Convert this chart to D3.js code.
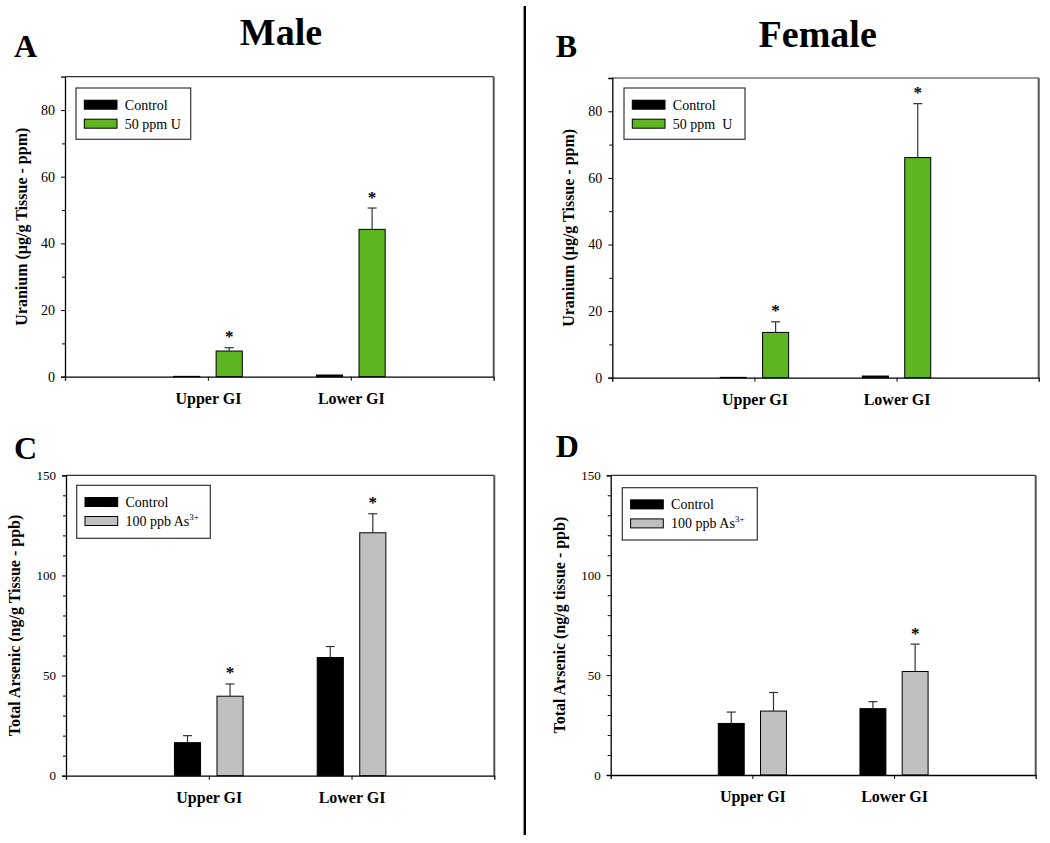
<!DOCTYPE html>
<html>
<head>
<meta charset="utf-8">
<script src="https://cdn.jsdelivr.net/npm/d3@7"></script>
<style>
  html, body { margin: 0; padding: 0; background: #fff; }
  svg { display: block; font-family: "Liberation Serif", "Times New Roman", serif; }
</style>
</head>
<body>
<svg id="chart" width="1050" height="843"></svg>
<script>
// ---------- data ----------
const categories = ["Upper GI", "Lower GI"];

const uraniumMaleControl = [0.1, 0.5];
const uraniumMaleControlErr = [0, 0];
const uraniumMaleTreated = [7.7, 44.2];
const uraniumMaleTreatedErr = [1.0, 6.4];
const uraniumMaleSig = [true, true];

const uraniumFemaleControl = [0.1, 0.5];
const uraniumFemaleControlErr = [0, 0];
const uraniumFemaleTreated = [13.6, 66.1];
const uraniumFemaleTreatedErr = [3.2, 16.2];
const uraniumFemaleSig = [true, true];

const arsenicMaleControl = [16.5, 59.0];
const arsenicMaleControlErr = [3.5, 5.5];
const arsenicMaleTreated = [39.7, 121.3];
const arsenicMaleTreatedErr = [6.1, 9.5];
const arsenicMaleSig = [true, true];

const arsenicFemaleControl = [25.8, 33.2];
const arsenicFemaleControlErr = [5.7, 3.5];
const arsenicFemaleTreated = [32.0, 51.8];
const arsenicFemaleTreatedErr = [9.3, 13.7];
const arsenicFemaleSig = [false, true];

const uraniumTicks = [0, 20, 40, 60, 80];
const uraniumMinorTicks = [10, 30, 50, 70];
const arsenicTicks = [0, 50, 100, 150];
const arsenicMinorTicks = [10, 20, 30, 40, 60, 70, 80, 90, 110, 120, 130, 140];

const legendControl = "Control";
const legendUranium = "50 ppm U";
const legendUraniumB = "50 ppm  U";
const legendArsenic = "100 ppb As";
const legendArsenicSup = "3+";

const controlColor = "#000000";
const uraniumColor = "#5db520";
const arsenicColor = "#c0c0c0";

// ---------- panels ----------
const panels = [
  { letter: "A", letterX: 14, letterY: 57, title: "Male", titleX: 281, titleY: 45,
    box: { l: 65, t: 76.7, r: 493.7, b: 376.7 }, ymax: 90, ticks: uraniumTicks, minor: uraniumMinorTicks,
    tickFont: 14, ylabel: "Uranium (\u00b5g/g Tissue - ppm)", ylabelX: 21,
    control: uraniumMaleControl, controlErr: uraniumMaleControlErr,
    treated: uraniumMaleTreated, treatedErr: uraniumMaleTreatedErr, sig: uraniumMaleSig,
    color: uraniumColor, legendText: legendUranium, sup: null,
    legend: { dx: 11, dy: 11.3, w: 114.7, h: 51.3 } },
  { letter: "B", letterX: 555.7, letterY: 57.3, title: "Female", titleX: 817.7, titleY: 46.5,
    box: { l: 612.3, t: 78, r: 1038.7, b: 377.7 }, ymax: 90, ticks: uraniumTicks, minor: uraniumMinorTicks,
    tickFont: 14, ylabel: "Uranium (\u00b5g/g Tissue - ppm)", ylabelX: 568,
    control: uraniumFemaleControl, controlErr: uraniumFemaleControlErr,
    treated: uraniumFemaleTreated, treatedErr: uraniumFemaleTreatedErr, sig: uraniumFemaleSig,
    color: uraniumColor, legendText: legendUraniumB, sup: null,
    legend: { dx: 11.7, dy: 10, w: 121, h: 51.3 } },
  { letter: "C", letterX: 14, letterY: 459.3, title: null,
    box: { l: 66, t: 475.3, r: 494.3, b: 775.7 }, ymax: 150, ticks: arsenicTicks, minor: arsenicMinorTicks,
    tickFont: 13, ylabel: "Total Arsenic (ng/g Tissue - ppb)", ylabelX: 14,
    control: arsenicMaleControl, controlErr: arsenicMaleControlErr,
    treated: arsenicMaleTreated, treatedErr: arsenicMaleTreatedErr, sig: arsenicMaleSig,
    color: arsenicColor, legendText: legendArsenic, sup: legendArsenicSup,
    legend: { dx: 10.7, dy: 10, w: 133.6, h: 53 } },
  { letter: "D", letterX: 555.7, letterY: 457.3, title: null,
    box: { l: 610.7, t: 475.3, r: 1035.7, b: 775 }, ymax: 150, ticks: arsenicTicks, minor: arsenicMinorTicks,
    tickFont: 13, ylabel: "Total Arsenic (ng/g tissue - ppb)", ylabelX: 559,
    control: arsenicFemaleControl, controlErr: arsenicFemaleControlErr,
    treated: arsenicFemaleTreated, treatedErr: arsenicFemaleTreatedErr, sig: arsenicFemaleSig,
    color: arsenicColor, legendText: legendArsenic, sup: legendArsenicSup,
    legend: { dx: 11.6, dy: 12.4, w: 135, h: 52.3 } }
];

const svg = d3.select("#chart");

// divider
svg.append("line").attr("x1", 524.8).attr("x2", 524.8).attr("y1", 6).attr("y2", 835)
  .attr("stroke", "#000").attr("stroke-width", 2.4);

const barW = 0.183, barOff = 0.149;

panels.forEach(p => {
  const g = svg.append("g");
  const B = p.box;
  const x = d3.scaleLinear().domain([0, 3]).range([B.l, B.r]);
  const y = d3.scaleLinear().domain([0, p.ymax]).range([B.b, B.t]);

  // letter & title
  g.append("text").attr("x", p.letterX).attr("y", p.letterY).attr("font-size", 32)
    .attr("font-weight", "bold").text(p.letter);
  if (p.title) {
    g.append("text").attr("x", p.titleX).attr("y", p.titleY).attr("font-size", 38)
      .attr("font-weight", "bold").attr("text-anchor", "middle").text(p.title);
  }

  // frame top & right
  g.append("line").attr("x1", B.l).attr("x2", B.r).attr("y1", B.t).attr("y2", B.t)
    .attr("stroke", "#333").attr("stroke-width", 1.2);
  g.append("line").attr("x1", B.r).attr("x2", B.r).attr("y1", B.t).attr("y2", B.b)
    .attr("stroke", "#555").attr("stroke-width", 2);

  // bars
  const idx = categories.map((c, i) => i);
  const series = [
    { vals: p.control, errs: p.controlErr, off: -barOff, fill: controlColor, sig: null },
    { vals: p.treated, errs: p.treatedErr, off: barOff, fill: p.color, sig: p.sig }
  ];
  series.forEach(s => {
    const bx = i => x(i + 1 + s.off - barW / 2);
    const bw = x(barW) - x(0);
    g.selectAll(null).data(idx).enter().append("rect")
      .attr("x", bx).attr("width", bw)
      .attr("y", i => y(s.vals[i])).attr("height", i => y(0) - y(s.vals[i]))
      .attr("fill", s.fill).attr("stroke", "#000").attr("stroke-width", 1);
    // error bars
    idx.filter(i => s.errs[i] > 0).forEach(i => {
      const cx = x(i + 1 + s.off);
      const top = y(s.vals[i] + s.errs[i]);
      g.append("line").attr("x1", cx).attr("x2", cx).attr("y1", y(s.vals[i])).attr("y2", top)
        .attr("stroke", "#333").attr("stroke-width", 1.2);
      g.append("line").attr("x1", cx - 4.5).attr("x2", cx + 4.5).attr("y1", top).attr("y2", top)
        .attr("stroke", "#333").attr("stroke-width", 1.2);
      if (s.sig && s.sig[i]) {
        g.append("text").attr("x", cx).attr("y", top - 5.5).attr("text-anchor", "middle")
          .attr("font-size", 17).attr("font-weight", "bold").text("*");
      }
    });
  });

  // y axis
  const yAxis = g.append("g").attr("transform", `translate(${B.l},0)`)
    .call(d3.axisLeft(y).tickValues(p.ticks).tickSize(4).tickPadding(6).tickFormat(d3.format("d")));
  yAxis.select(".domain").attr("stroke", "#000").attr("stroke-width", 1.3);
  yAxis.selectAll(".tick line").attr("stroke", "#000");
  yAxis.selectAll("text").attr("font-size", p.tickFont).attr("font-family", "Liberation Serif").attr("fill", "#000");
  g.append("g").attr("transform", `translate(${B.l},0)`)
    .call(d3.axisLeft(y).tickValues(p.minor).tickSize(3).tickFormat(""))
    .call(a => a.select(".domain").remove())
    .selectAll(".tick line").attr("stroke", "#000");

  // x axis
  const xAxis = g.append("g").attr("transform", `translate(0,${B.b})`)
    .call(d3.axisBottom(x).tickValues([1, 2]).tickSize(4).tickPadding(11.5)
      .tickFormat(d => categories[d - 1]));
  xAxis.select(".domain").attr("stroke", "#000").attr("stroke-width", 1.3);
  xAxis.selectAll(".tick line").attr("stroke", "#000");
  xAxis.selectAll("text").attr("font-size", 16).attr("font-weight", "bold")
    .attr("font-family", "Liberation Serif").attr("fill", "#000");

  // y label
  g.append("text").attr("transform", `translate(${p.ylabelX},${(B.t + B.b) / 2}) rotate(-90)`)
    .attr("text-anchor", "middle").attr("dominant-baseline", "central")
    .attr("font-size", 16).attr("font-weight", "bold").text(p.ylabel);

  // legend
  const L = p.legend;
  const lg = g.append("g").attr("transform", `translate(${B.l + L.dx},${B.t + L.dy})`);
  lg.append("rect").attr("width", L.w).attr("height", L.h).attr("fill", "#fff")
    .attr("stroke", "#333").attr("stroke-width", 1.2);
  const items = [
    { fill: controlColor, text: legendControl, sup: null },
    { fill: p.color, text: p.legendText, sup: p.sup }
  ];
  items.forEach((it, k) => {
    const sy = 12.2 + k * 19;
    lg.append("rect").attr("x", 8.3).attr("y", sy).attr("width", 32.7).attr("height", 9)
      .attr("fill", it.fill).attr("stroke", "#000").attr("stroke-width", 1);
    const t = lg.append("text").attr("x", 48.8).attr("y", sy + 9.4).attr("font-size", 14)
      .attr("xml:space", "preserve").style("white-space", "pre").text(it.text);
    if (it.sup) {
      t.append("tspan").attr("font-size", 9).attr("dy", -6).text(it.sup);
    }
  });
});
</script>
</body>
</html>
